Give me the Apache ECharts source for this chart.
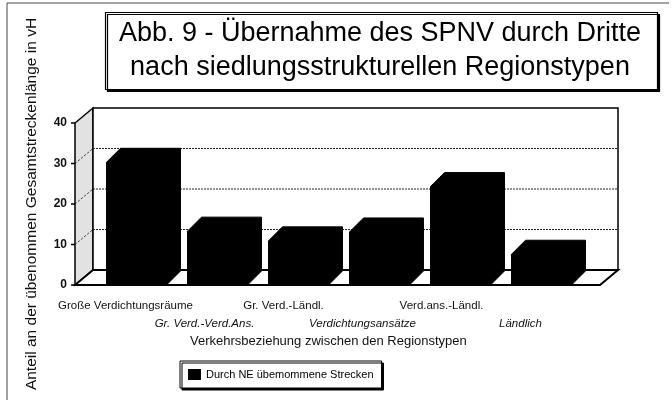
<!DOCTYPE html>
<html>
<head>
<meta charset="utf-8">
<script src="https://cdn.jsdelivr.net/npm/echarts@6/dist/echarts.min.js"></script>
<style>html,body{margin:0;padding:0;background:#fff}#c{width:672px;height:401px}</style>
</head>
<body>
<div id="c"></div>
<script>
const categories = ['Große Verdichtungsräume', 'Gr. Verd.-Verd.Ans.', 'Gr. Verd.-Ländl.', 'Verdichtungsansätze', 'Verd.ans.-Ländl.', 'Ländlich'];
const values = [30.3, 13.3, 10.9, 13.1, 24.3, 7.6];
const yTicks = [0, 10, 20, 30, 40];
const gridLevels = [10, 20, 30];
const seriesName = 'Durch NE übemommene Strecken';
const titleText = 'Abb. 9 - Übernahme des SPNV durch Dritte\nnach siedlungsstrukturellen Regionstypen';
const yName = 'Anteil an der übenommen Gesamtstreckenlänge in vH';
const xName = 'Verkehrsbeziehung zwischen den Regionstypen';

const FONT = 'Liberation Sans, Arial, Helvetica, sans-serif';
const chart = echarts.init(document.getElementById('c'), null, {renderer: 'canvas'});

const WD = 18, WH = 15;   // wall depth offset
const BD = 14;            // bar depth offset

function renderFrame(params, api) {
  const cs = params.coordSys;
  const y = v => api.coord([0, v])[1];
  const FL = cs.x - 21, FR = cs.x + cs.width + 18;
  const y0 = y(0), yTop = y(40);
  const children = [];
  children.push({type: 'polygon', shape: {points: [[FL, y0], [FL, yTop], [FL + WD, yTop - WH], [FL + WD, y0 - WH]]},
    style: {fill: '#e2e2e2', stroke: '#000', lineWidth: 1.5}});
  children.push({type: 'rect', shape: {x: FL + WD, y: yTop - WH, width: FR - FL, height: y0 - yTop},
    style: {fill: '#fff', stroke: '#000', lineWidth: 1.5}});
  children.push({type: 'polygon', shape: {points: [[FL, y0], [FR, y0], [FR + WD, y0 - WH], [FL + WD, y0 - WH]]},
    style: {fill: '#fff', stroke: '#000', lineWidth: 2}});
  gridLevels.forEach(v => {
    const yy = y(v);
    children.push({type: 'line', shape: {x1: FL + WD, y1: yy - WH, x2: FR + WD, y2: yy - WH},
      style: {stroke: '#222', lineWidth: 1, lineDash: [2, 1]}});
    children.push({type: 'line', shape: {x1: FL, y1: yy, x2: FL + WD, y2: yy - WH},
      style: {stroke: '#222', lineWidth: 1, lineDash: [2, 2]}});
  });
  yTicks.forEach(v => {
    const yy = y(v);
    children.push({type: 'line', shape: {x1: FL - 4, y1: yy, x2: FL, y2: yy}, style: {stroke: '#000', lineWidth: 1.5}});
  });
  return {type: 'group', children};
}

function renderBar(params, api) {
  const i = api.value(0), v = api.value(1);
  const top = api.coord([i, v]);
  const base = api.coord([i, 0]);
  const bw = api.size([1, 0])[0] * 0.74;
  const xL = top[0] - bw / 2, xR = top[0] + bw / 2;
  return {
    type: 'polygon',
    shape: {points: [[xL, base[1]], [xL, top[1]], [xL + BD, top[1] - BD], [xR + BD, top[1] - BD], [xR + BD, base[1] - BD], [xR, base[1]]]},
    style: {fill: '#000', stroke: '#000', lineWidth: 1}
  };
}

const option = {
  animation: false,
  backgroundColor: '#fff',
  textStyle: {fontFamily: FONT},
  title: {
    text: titleText,
    left: 366, top: 12, textAlign: 'center',
    padding: [5, 17, 5, 14],
    borderColor: '#000', borderWidth: 1.2, backgroundColor: '#fff',
    shadowColor: '#000', shadowOffsetX: 2, shadowOffsetY: 2, shadowBlur: 0,
    textStyle: {fontSize: 27, fontWeight: 'normal', color: '#000', lineHeight: 34, fontFamily: FONT}
  },
  legend: {
    data: [seriesName], left: 180, top: 361,
    padding: [8, 8, 8, 8], borderColor: '#000', borderWidth: 1, backgroundColor: '#fff',
    shadowColor: '#000', shadowOffsetX: 2, shadowOffsetY: 2, shadowBlur: 0,
    icon: 'rect', itemWidth: 13, itemHeight: 11, itemGap: 6,
    textStyle: {fontSize: 11, color: '#000', fontFamily: FONT}
  },
  grid: [
    {left: 96, top: 123, width: 486, height: 162},
    {left: 86, top: 123, width: 474, height: 162}
  ],
  xAxis: [
    {type: 'category', gridIndex: 0, data: categories, show: false},
    {type: 'category', gridIndex: 1, data: categories,
      axisLine: {show: false}, axisTick: {show: false}, splitLine: {show: false},
      axisLabel: {interval: 0, margin: 12, color: '#111', fontSize: 11.5,
        formatter: (val, idx) => idx % 2 === 0 ? '{a|' + val + '}' : '{a| }\n{b|' + val + '}',
        rich: {a: {fontSize: 11.5, lineHeight: 18, fontFamily: FONT, color: '#111'},
               b: {fontSize: 11.5, lineHeight: 18, fontStyle: 'italic', fontFamily: FONT, color: '#111'}}}}
  ],
  yAxis: [
    {type: 'value', gridIndex: 0, min: 0, max: 40, interval: 10,
      axisLine: {show: false}, axisTick: {show: false}, splitLine: {show: false},
      axisLabel: {margin: 29, fontSize: 12, fontWeight: 'bold', color: '#111'},
      name: yName, nameLocation: 'middle', nameRotate: 90, nameGap: 56,
      nameTextStyle: {fontSize: 15.5, color: '#111', fontFamily: FONT}},
    {type: 'value', gridIndex: 1, min: 0, max: 40, show: false}
  ],
  graphic: [
    {type: 'line', shape: {x1: 7, y1: 3, x2: 7, y2: 400}, style: {stroke: '#444', lineWidth: 1}},
    {type: 'line', shape: {x1: 7, y1: 3, x2: 669, y2: 3}, style: {stroke: '#444', lineWidth: 1}},
    {type: 'text', left: 190, top: 335, style: {text: xName, font: '13px ' + FONT, fill: '#111'}}
  ],
  series: [
    {type: 'custom', name: 'frame', xAxisIndex: 0, yAxisIndex: 0, data: [[0, 0]], renderItem: renderFrame, z: 1, silent: true},
    {type: 'custom', name: seriesName, xAxisIndex: 0, yAxisIndex: 0, itemStyle: {color: '#000'},
      data: values.map((v, i) => [i, v]), encode: {x: 0, y: 1}, renderItem: renderBar, z: 2}
  ]
};
chart.setOption(option);
</script>
</body>
</html>
